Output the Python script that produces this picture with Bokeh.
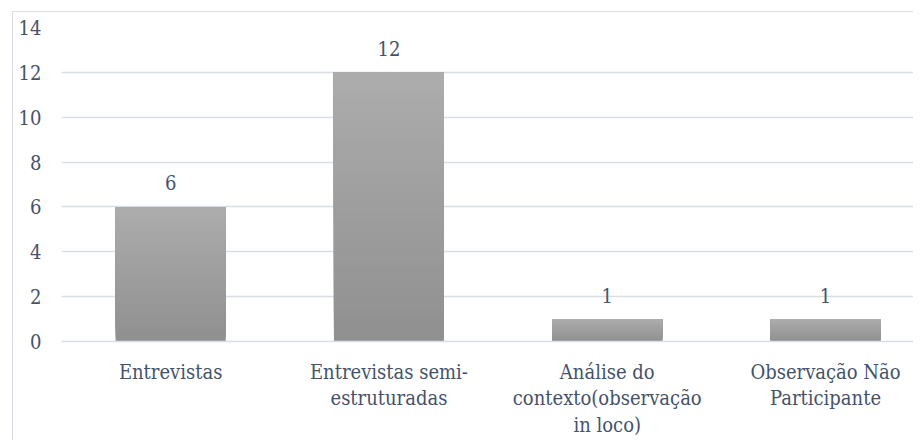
from bokeh.plotting import figure
from bokeh.models import Range1d, FixedTicker, ColumnDataSource
from bokeh.embed import file_html
from bokeh.resources import INLINE
from bokeh.core.properties import value

categories = ["Entrevistas", "Entrevistas semi-\nestruturadas",
              "Análise do\ncontexto(observação\nin loco)",
              "Observação Não\nParticipante"]
values = [6, 12, 1, 1]
y_ticks = [0, 2, 4, 6, 8, 10, 12, 14]

FONT = "DejaVu Serif Condensed"
FS = "20px"
TXT = "#44526a"
GRID = "#d9dee6"
BORDER = "#d9dde3"

p = figure(width=913, height=440, output_backend="svg", toolbar_location=None,
           x_range=Range1d(-0.5, 3.403), y_range=Range1d(0, 14),
           min_border_left=61, min_border_top=27, min_border_right=0,
           min_border_bottom=98)
p.outline_line_color = None
p.background_fill_color = "white"
p.border_fill_alpha = 0
p.styles = {"background": (
    f"linear-gradient({BORDER},{BORDER}) 12px 11px / 1px 100% no-repeat, "
    f"linear-gradient({BORDER},{BORDER}) 12px 11px / 100% 1px no-repeat, white")}

top_c = (0xAD, 0xAD, 0xAD)
bot_c = (0x90, 0x90, 0x90)
N = 40
xs_l, xs_r, ys_b, ys_t, cols = [], [], [], [], []
for i, v in enumerate(values):
    for k in range(N):
        f = k / N
        c = tuple(int(round(bot_c[j] + (top_c[j] - bot_c[j]) * f)) for j in range(3))
        xs_l.append(i - 0.252)
        xs_r.append(i + 0.252)
        ys_b.append(v * f)
        ys_t.append(v)
        cols.append("#%02x%02x%02x" % c)
p.quad(left=xs_l, right=xs_r, bottom=ys_b, top=ys_t, fill_color=cols, line_color=None)

src = ColumnDataSource(dict(x=list(range(len(values))), y=values,
                            t=[str(v) for v in values]))
p.text(x="x", y="y", text="t", source=src, y_offset=-24,
       text_align="center", text_baseline="middle",
       text_font=value(FONT), text_font_size=FS, text_color=TXT)

p.xgrid.visible = False
p.ygrid.grid_line_color = GRID
p.ygrid.grid_line_width = 1.5
p.yaxis.ticker = FixedTicker(ticks=y_ticks)
p.xaxis.ticker = FixedTicker(ticks=list(range(len(categories))))
p.xaxis.major_label_overrides = {i: c for i, c in enumerate(categories)}

for ax in (p.xaxis[0], p.yaxis[0]):
    ax.axis_line_color = None
    ax.major_tick_line_color = None
    ax.minor_tick_line_color = None
    ax.major_label_text_font = FONT
    ax.major_label_text_font_size = FS
    ax.major_label_text_color = TXT
    ax.major_label_text_line_height = 1.12

p.xaxis.axis_line_color = GRID
p.xaxis.axis_line_width = 1.5
p.yaxis.major_label_standoff = 14
p.xaxis.major_label_standoff = 12

open("out.html", "w").write(file_html(p, INLINE))
